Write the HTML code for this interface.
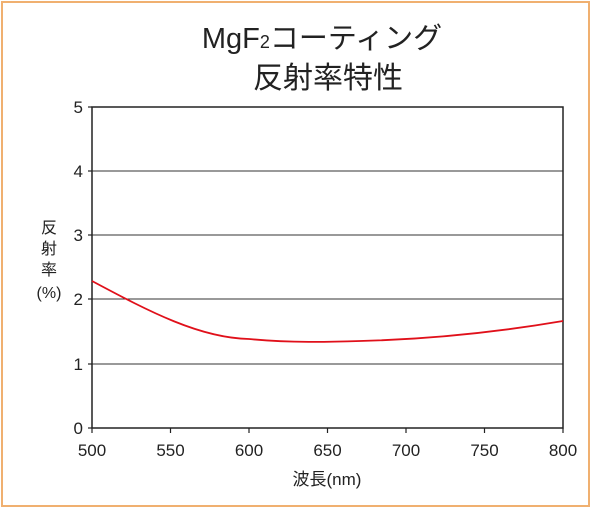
<!DOCTYPE html>
<html><head><meta charset="utf-8"><style>
body{margin:0;background:#fff}
</style></head><body>
<svg width="600" height="511" xmlns="http://www.w3.org/2000/svg" font-family="Liberation Sans, Noto Sans CJK JP, sans-serif">
<rect x="2" y="2" width="587" height="504" fill="#fff" stroke="#f0b070" stroke-width="2"/>
<text x="322" y="48" font-size="29" text-anchor="middle" fill="#222">MgF<tspan font-size="18">2</tspan>コーティング</text>
<text x="328" y="88" font-size="30" text-anchor="middle" fill="#222">反射率特性</text>
<g stroke="#333" stroke-width="1">
<line x1="92" y1="171" x2="563" y2="171"/>
<line x1="92" y1="235" x2="563" y2="235"/>
<line x1="92" y1="299" x2="563" y2="299"/>
<line x1="92" y1="364" x2="563" y2="364"/>
</g>
<rect x="92" y="107" width="471" height="321" fill="none" stroke="#222" stroke-width="1.5"/>
<g stroke="#222" stroke-width="1.2">
<line x1="88" y1="107" x2="92" y2="107"/><line x1="88" y1="171" x2="92" y2="171"/><line x1="88" y1="235" x2="92" y2="235"/><line x1="88" y1="299" x2="92" y2="299"/><line x1="88" y1="364" x2="92" y2="364"/><line x1="88" y1="428" x2="92" y2="428"/>
<line x1="92" y1="428" x2="92" y2="433"/><line x1="170.5" y1="428" x2="170.5" y2="433"/><line x1="249" y1="428" x2="249" y2="433"/><line x1="327.5" y1="428" x2="327.5" y2="433"/><line x1="406" y1="428" x2="406" y2="433"/><line x1="484.5" y1="428" x2="484.5" y2="433"/><line x1="563" y1="428" x2="563" y2="433"/>
</g>
<g font-size="17" fill="#222" text-anchor="end">
<text x="83" y="113">5</text><text x="83" y="177">4</text><text x="83" y="241">3</text><text x="83" y="305">2</text><text x="83" y="370">1</text><text x="83" y="434">0</text>
</g>
<g font-size="17" fill="#222" text-anchor="middle">
<text x="92" y="456">500</text><text x="170.5" y="456">550</text><text x="249" y="456">600</text><text x="327.5" y="456">650</text><text x="406" y="456">700</text><text x="484.5" y="456">750</text><text x="563" y="456">800</text>
</g>
<text x="327" y="485" font-size="17" text-anchor="middle" fill="#222">波長(nm)</text>
<g font-size="16" fill="#222" text-anchor="middle">
<text x="49" y="233">反</text><text x="49" y="254">射</text><text x="49" y="275">率</text><text x="49" y="298">(%)</text>
</g>
<path d="M92,281 C150,312 200,338 249,339 C290,343 330,342 360,341 C440,339 510,330 563,321" fill="none" stroke="#e0101a" stroke-width="1.8"/>
</svg>
</body></html>
